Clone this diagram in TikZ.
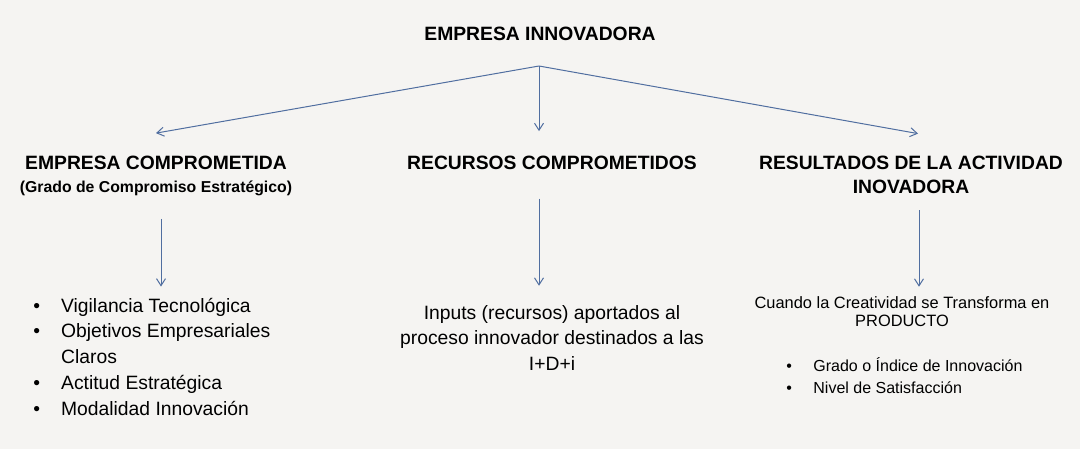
\documentclass[tikz,border=0pt]{standalone}
\usepackage{fontspec}
\setmainfont{Liberation Sans}
\usepackage{tikz}
\usetikzlibrary{arrows.meta}

\definecolor{arrowblue}{RGB}{80,110,160}
\definecolor{paper}{RGB}{245,244,242}

\begin{document}
\begin{tikzpicture}[x=0.5pt,y=-0.5pt,
  every node/.style={inner sep=0pt,anchor=base},
  head/.style={font=\bfseries\fontsize{9.65pt}{12.5pt}\selectfont},
  subhead/.style={font=\bfseries\fontsize{7.9pt}{9pt}\selectfont},
  body/.style={font=\fontsize{9.65pt}{12.75pt}\selectfont},
  small/.style={font=\fontsize{8.2pt}{9.2pt}\selectfont},
  arr/.style={draw=arrowblue,line width=0.5pt,-{Straight Barb[length=3.5pt,width=4.5pt]}}]

  % Background
  \fill[paper] (0,0) rectangle (1080,449);

  % Top level
  \node[head] (top) at (540,41) {EMPRESA INNOVADORA};
  \coordinate (split) at (539,66);

  % Branch headings
  \node[head] (cmp) at (156,169) {EMPRESA COMPROMETIDA};
  \node[subhead] (cmpsub) at (156,192) {(Grado de Compromiso Estratégico)};
  \node[head] (rec) at (552,169) {RECURSOS COMPROMETIDOS};
  \node[head] (res) at (911,169) {\begin{tabular}[t]{@{}c@{}}RESULTADOS DE LA ACTIVIDAD\\INOVADORA\end{tabular}};

  % Branch contents
  \node[font=\fontsize{9.65pt}{12.9pt}\selectfont,anchor=base west] (cmplist) at (33,312) {%
    \begin{tabular}[t]{@{}l@{\hspace{10.5pt}}l@{}}
      \textbullet & Vigilancia Tecnológica\\
      \textbullet & Objetivos Empresariales\\
                  & Claros\\
      \textbullet & Actitud Estratégica\\
      \textbullet & Modalidad Innovación
    \end{tabular}};
  \node[body] (rectext) at (552,319) {\begin{tabular}[t]{@{}c@{}}Inputs (recursos) aportados al\\proceso innovador destinados a las\\I+D+i\end{tabular}};
  \node[small] (restext) at (902,308) {\begin{tabular}[t]{@{}c@{}}Cuando la Creatividad se Transforma en\\PRODUCTO\end{tabular}};
  \node[font=\fontsize{8pt}{11pt}\selectfont,anchor=base west] (reslist) at (786,371) {%
    \begin{tabular}[t]{@{}l@{\hspace{10.7pt}}l@{}}
      \textbullet & Grado o Índice de Innovación\\
      \textbullet & Nivel de Satisfacción
    \end{tabular}};

  % Arrows from the top
  \draw[arr] (split) -- ([yshift=11pt]cmp.north);
  \draw[arr] (split) -- ([yshift=12pt]split |- rec.north);
  \draw[arr] (split) -- ([xshift=3.5pt,yshift=8.75pt]res.north);

  % Arrows down to contents
  \draw[arr,shorten >=3.5pt] ([xshift=2.5pt,yshift=-11.5pt]cmpsub.south) -- ([xshift=2.5pt]cmpsub.south |- cmplist.north);
  \draw[arr,shorten >=7.5pt] ([yshift=-14.5pt]split |- rec.south) -- (split |- rectext.north);
  \draw[arr,shorten >=4pt] ([xshift=4pt,yshift=-4.25pt]res.south) -- ([xshift=4pt]res.south |- restext.north);

\end{tikzpicture}
\end{document}
